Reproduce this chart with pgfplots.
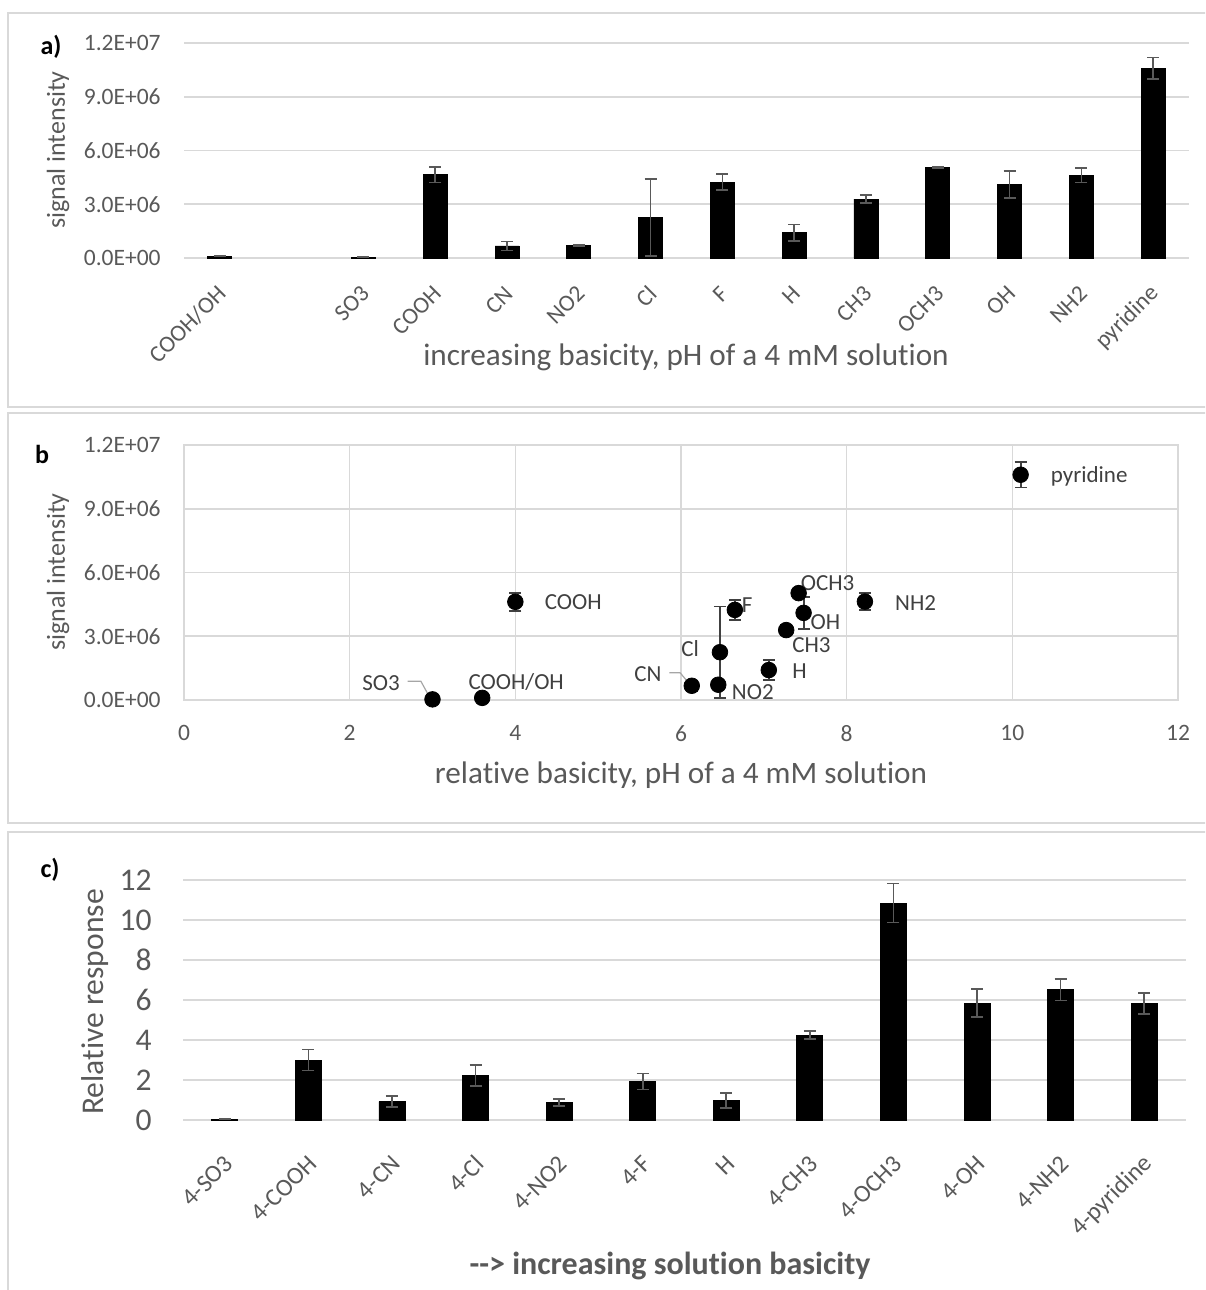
\documentclass[border=0pt]{standalone}
\usepackage{pgfplots}
\pgfplotsset{compat=1.18}
\usepackage{fontspec}
\setmainfont{Carlito}[Ligatures={NoCommon}]
\definecolor{textgray}{HTML}{595959}
\definecolor{gridgray}{HTML}{D9D9D9}
\definecolor{errgray}{HTML}{595959}
\definecolor{lblgray}{HTML}{404040}
\newcommand{\fs}[1]{\fontsize{#1}{#1}\selectfont}

\pgfplotstableread{
x y e
0 100000 20000
2 30000 10000
3 4650000 430000
4 670000 240000
5 720000 40000
6 2250000 2150000
7 4240000 460000
8 1410000 460000
9 3290000 230000
10 5030000 40000
11 4100000 740000
12 4630000 410000
13 10600000 600000
}\dataA

\pgfplotstableread{
x y e
3.60 100000 20000
3.00 30000 0
4.00 4620000 430000
6.13 670000 240000
6.45 720000 40000
6.47 2250000 2150000
6.65 4240000 460000
7.06 1410000 460000
7.27 3290000 230000
7.42 5030000 40000
7.48 4100000 740000
8.22 4630000 410000
10.10 10600000 600000
}\dataB

\pgfplotstableread{
x y e
0 0.03 0.01
1 3.00 0.52
2 0.92 0.28
3 2.23 0.52
4 0.87 0.17
5 1.93 0.40
6 0.97 0.37
7 4.24 0.20
8 10.85 0.97
9 5.84 0.70
10 6.52 0.54
11 5.82 0.52
}\dataC

\pgfplotsset{
  common/.style={
    scale only axis,
    anchor=south west,
    tick style={draw=none},
    major tick length=0pt,
    ymajorgrids,
    grid style={draw=gridgray, line width=0.8pt},
    clip=false,
  },
  barerr/.style={
    error bars/.cd, y dir=both, y explicit,
    error bar style={color=errgray, line width=0.8pt},
    error mark options={rotate=90, mark size=3pt, line width=0.8pt, color=errgray},
  },
}

\begin{document}
\begin{tikzpicture}
\useasboundingbox (0,0) rectangle (602.5pt,-645pt);
\clip (0,0) rectangle (602.5pt,-645pt);

% panel frames and labels (1 unit = 1 px of reference)
\begin{scope}[x=0.5pt,y=-0.5pt]
\draw[gridgray, line width=0.8pt] (8,13) rectangle (1220,407);
\draw[gridgray, line width=0.8pt] (8,413) rectangle (1220,823);
\draw[gridgray, line width=0.8pt] (8,832) rectangle (1220,1320);
\node[font=\bfseries\fs{13pt}] at (51,47) {a)};
\node[font=\bfseries\fs{13pt}] at (42,454) {b};
\node[font=\bfseries\fs{13pt}] at (50,870) {c)};
\node[rotate=90, text=textgray, font=\fs{13pt}] at (58,150) {signal intensity};
\node[rotate=90, text=textgray, font=\fs{13pt}] at (58,572) {signal intensity};
\node[rotate=90, text=textgray, font=\fs{15.8pt}] at (95,1002) {Relative response};
\node[text=textgray, font=\fs{15.6pt}] at (686,357) {increasing basicity, pH of a 4 mM solution};
\node[text=textgray, font=\fs{15.6pt}] at (681,775) {relative basicity, pH of a 4 mM solution};
\node[text=textgray, font=\bfseries\fs{16pt}] at (670,1266) {-{}-{}> increasing solution basicity};
\end{scope}

% panel a
\begin{axis}[common,
  at={(92pt,-129pt)},
  width=502.5pt, height=107.5pt,
  xmin=-0.5, xmax=13.5, ymin=0, ymax=12000000,
  axis line style={draw=none},
  xtick={0,2,3,4,5,6,7,8,9,10,11,12,13},
  xticklabels={COOH/OH,SO3,COOH,CN,NO2,Cl,F,H,CH3,OCH3,OH,NH2,pyridine},
  ytick={0,3000000,6000000,9000000,12000000},
  yticklabels={0.0E+00,3.0E+06,6.0E+06,9.0E+06,1.2E+07},
  scaled y ticks=false,
  yticklabel style={font=\fs{11.75pt}, text=textgray, inner sep=0pt, xshift=-11.5pt},
  xticklabel style={font=\fs{11.75pt}, text=textgray, rotate=45, anchor=east, inner sep=0pt, xshift=-10.5pt, yshift=-12pt},
]
\addplot[ybar, bar width=12pt, fill=black, draw=black, barerr] table[x=x, y=y, y error=e] {\dataA};
\end{axis}

% panel b
\begin{axis}[common,
  at={(92pt,-350pt)},
  width=497pt, height=127.5pt,
  xmin=0, xmax=12, ymin=0, ymax=12000000,
  axis line style={draw=gridgray, line width=0.8pt},
  xmajorgrids,
  xtick={0,2,4,6,8,10,12},
  xticklabels={0,2,4,6,8,10,12},
  ytick={0,3000000,6000000,9000000,12000000},
  yticklabels={0.0E+00,3.0E+06,6.0E+06,9.0E+06,1.2E+07},
  scaled y ticks=false,
  yticklabel style={font=\fs{11.75pt}, text=textgray, inner sep=0pt, xshift=-11.5pt},
  xticklabel style={font=\fs{11.75pt}, text=textgray, inner sep=0pt, yshift=-12.5pt},
]
\addplot[only marks, mark=*, mark size=3.9pt, mark options={fill=black, draw=black},
  error bars/.cd, y dir=both, y explicit,
  error bar style={color=lblgray, line width=0.9pt},
  error mark options={rotate=90, mark size=3pt, line width=0.9pt, color=lblgray}]
  table[x=x, y=y, y error=e] {\dataB};
\begin{scope}[font=\fs{11.5pt}, text=lblgray]
\node[anchor=west] at (axis cs:10.38,10530000) {pyridine};
\node[anchor=west] at (axis cs:4.27,4590000) {COOH};
\node[anchor=west] at (axis cs:8.50,4550000) {NH2};
\node[anchor=center] at (axis cs:7.77,5520000) {OCH3};
\node[anchor=west, inner sep=0pt] at (axis cs:6.73,4450000) {F};
\node[anchor=west, inner sep=0pt] at (axis cs:7.56,3680000) {OH};
\node[anchor=west, inner sep=0pt] at (axis cs:7.34,2600000) {CH3};
\node[anchor=east, inner sep=0pt] at (axis cs:6.22,2400000) {Cl};
\node[anchor=west, inner sep=0pt] at (axis cs:7.34,1350000) {H};
\node[anchor=west, inner sep=0pt] at (axis cs:6.61,360000) {NO2};
\node[anchor=east, inner sep=0pt] at (axis cs:5.77,1220000) {CN};
\node[anchor=east, inner sep=0pt] at (axis cs:2.61,800000) {SO3};
\node[anchor=center] at (axis cs:4.01,830000) {COOH/OH};
\end{scope}
\draw[gray!70, line width=0.6pt] (axis cs:5.86,1280000) -- (axis cs:5.99,1280000) -- (axis cs:6.11,720000);
\draw[gray!70, line width=0.6pt] (axis cs:2.70,880000) -- (axis cs:2.86,880000) -- (axis cs:2.97,100000);
\end{axis}

% panel c
\begin{axis}[common,
  at={(91.5pt,-560pt)},
  width=501.5pt, height=120pt,
  xmin=-0.5, xmax=11.5, ymin=0, ymax=12,
  axis line style={draw=none},
  xtick={0,...,11},
  xticklabels={4-SO3,4-COOH,4-CN,4-Cl,4-NO2,4-F,H,4-CH3,4-OCH3,4-OH,4-NH2,4-pyridine},
  ytick={0,2,4,6,8,10,12},
  yticklabels={0,2,4,6,8,10,12},
  yticklabel style={font=\fs{15.8pt}, text=textgray, inner sep=0pt, xshift=-15.5pt},
  xticklabel style={font=\fs{12.3pt}, text=textgray, rotate=45, anchor=east, inner sep=0pt, xshift=-12.5pt, yshift=-15.5pt},
]
\addplot[ybar, bar width=13pt, fill=black, draw=black, barerr] table[x=x, y=y, y error=e] {\dataC};
\end{axis}
\end{tikzpicture}
\end{document}
